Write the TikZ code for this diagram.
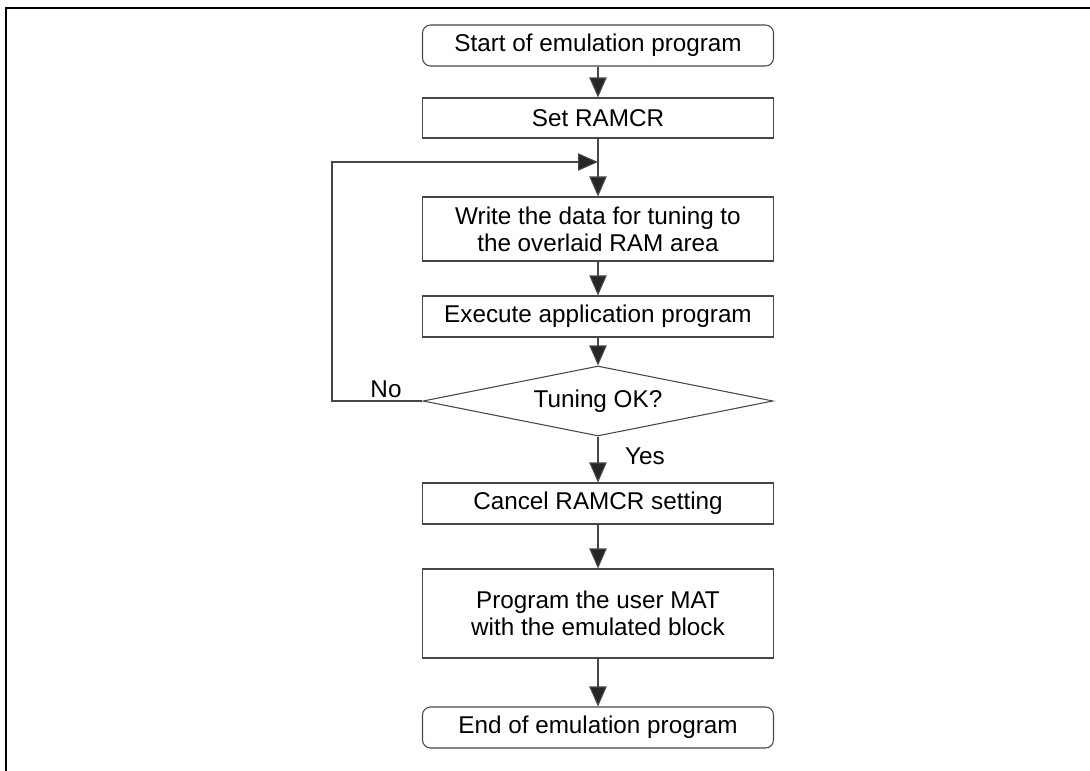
\documentclass[tikz,border=0pt]{standalone}
\usepackage{fontspec}
\setmainfont{Liberation Sans}
\usetikzlibrary{shapes.geometric,arrows.meta}
\begin{document}
\begin{tikzpicture}[x=0.75pt,y=-0.75pt,
  every node/.style={font=\fontsize{18.2pt}{20pt}\selectfont, inner sep=0pt, align=center},
  proc/.style={draw=black!72, line width=0.8pt, minimum width=263.25pt},
  term/.style={proc, rounded corners=6pt},
  dec/.style={draw=black!72, line width=0.8pt, diamond, aspect=5, minimum width=262.5pt, minimum height=52.5pt},
  flow/.style={draw=black!72, line width=0.8pt, -{Triangle[length=15pt,width=13pt,fill=black!85]}},
  plain/.style={draw=black!72, line width=0.8pt},
  frame/.style={draw=black, line width=1.5pt}
]
\useasboundingbox (0,0) rectangle (1090,771);
\draw[frame] (6,771) -- (6,8) -- (1090,8);

\node[term, minimum height=30.75pt] (start) at (598,45.5) {Start of emulation program};
\node[proc, minimum height=30pt] (setr) at (598,118) {Set RAMCR};
\node[proc, minimum height=48pt] (write) at (598,229) {Write the data for tuning to\\the overlaid RAM area};
\node[proc, minimum height=30.75pt] (exec) at (598,316.5) {Execute application program};
\node[dec] (dec) at (598,401) {Tuning OK?};
\node[proc, minimum height=30.75pt] (cancel) at (598,503.5) {Cancel RAMCR setting};
\node[proc, minimum height=66.75pt] (prog) at (598,613.5) {Program the user MAT\\with the emulated block};
\node[term, minimum height=30.75pt] (end) at (598,727.5) {End of emulation program};

\node (no) at (386,389) {No};
\node (yes) at (645,456) {Yes};

\coordinate (loopA) at (332,401);
\coordinate (loopB) at (332,162);
\coordinate (join) at (598,162);

\draw[flow] (start) -- (setr);
\draw[flow] (setr) -- (write);
\draw[flow] (write) -- (exec);
\draw[flow] (exec) -- (dec);
\draw[flow] (dec) -- (cancel);
\draw[flow] (cancel) -- (prog);
\draw[flow] (prog) -- (end);
\draw[flow] (dec.west) -- (loopA) -- (loopB) -- (join);
\end{tikzpicture}
\end{document}
